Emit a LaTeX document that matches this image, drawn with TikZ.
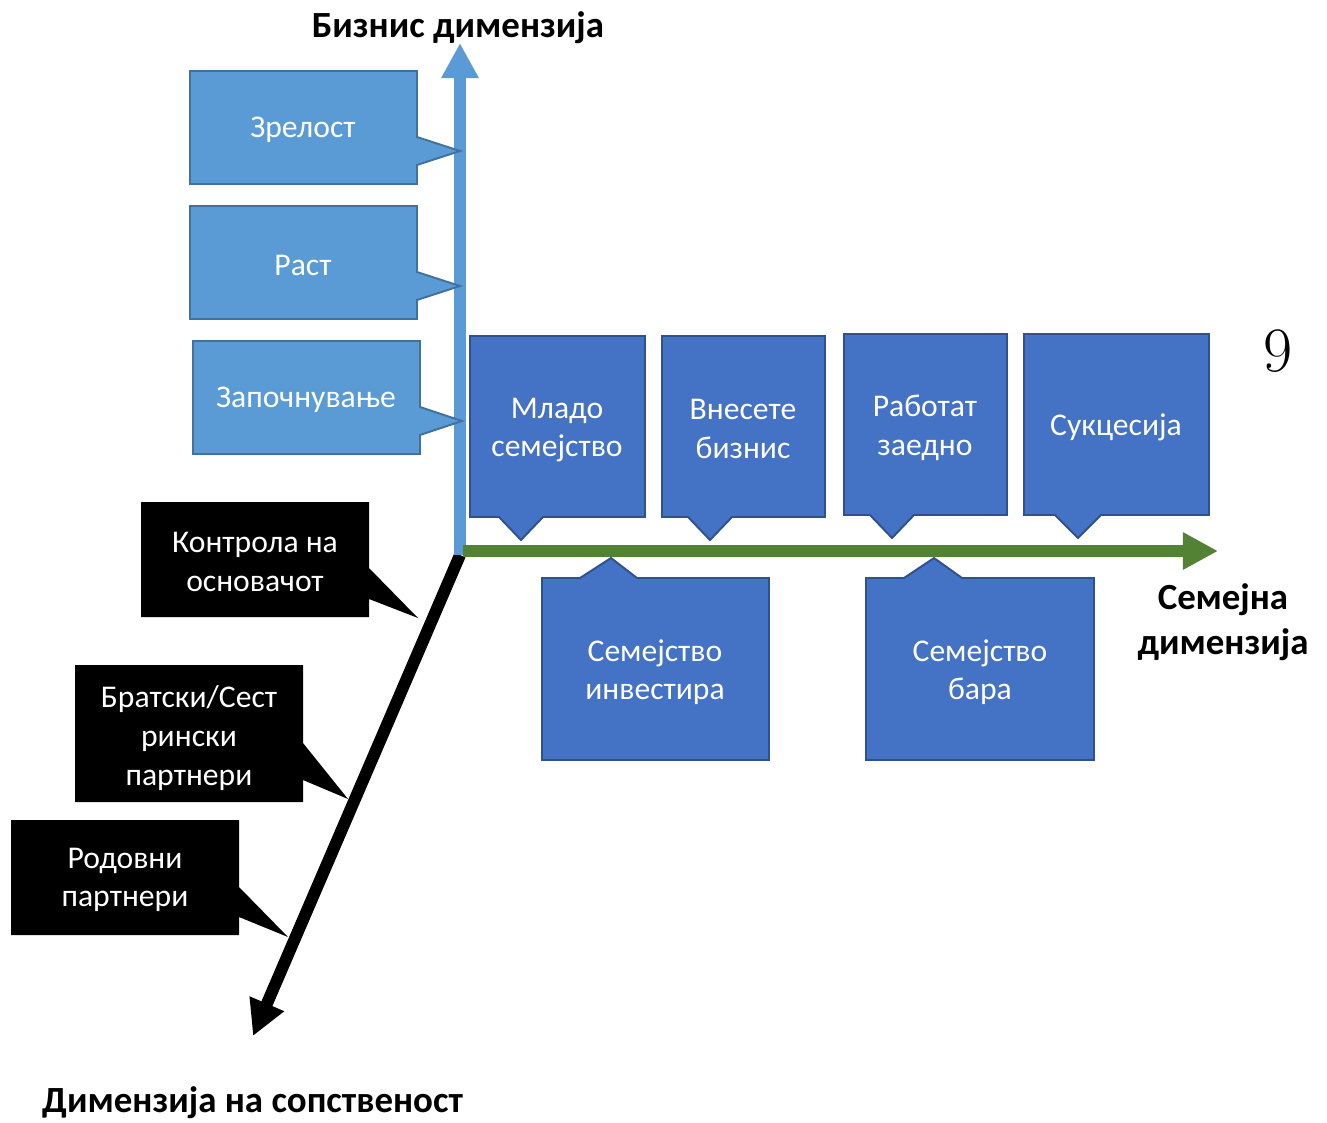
\documentclass[tikz,border=0pt]{standalone}
\usepackage{fontspec}
\setsansfont{Carlito}
\usetikzlibrary{arrows.meta}
\definecolor{bizblue}{RGB}{91,155,213}
\definecolor{bizedge}{RGB}{65,113,156}
\definecolor{famblue}{RGB}{68,114,196}
\definecolor{famedge}{RGB}{47,82,143}
\definecolor{famgreen}{RGB}{84,130,53}

\begin{document}
\begin{tikzpicture}
  [x=0.02cm,y=-0.02cm,
   bizbox/.style={fill=bizblue,draw=bizedge,line width=1.1pt},
   fambox/.style={fill=famblue,draw=famedge,line width=1.1pt},
   ownbox/.style={fill=black},
   boxtext/.style={text=white,align=center,font=\sffamily\fontsize{18}{22}\selectfont},
   axistext/.style={align=center,font=\sffamily\bfseries\fontsize{21}{25.5}\selectfont},
   axis/.style={line width=6.8pt}]
  \useasboundingbox (0,0) rectangle (1327,1122);

  % axes
  \coordinate (origin) at (460,555);
  \coordinate (biztip) at (460,43);
  \coordinate (famstart) at (463,551);
  \coordinate (famtip) at (1218,551);
  \coordinate (owntip) at (253,1036);
  \draw[axis,black,-{Triangle[width=20pt,length=20pt]}] (origin) -- (owntip);
  \draw[axis,bizblue,-{Triangle[width=20pt,length=20pt]}] (origin) -- (biztip);
  \draw[axis,famgreen,-{Triangle[width=20pt,length=20pt]}] (famstart) -- (famtip);

  % business stages
  \path[bizbox] (190,71) -- (417,71) -- (417,137) -- (460,151) -- (417,165) -- (417,184) -- (190,184) -- cycle;
  \path[bizbox] (190,206) -- (417,206) -- (417,272) -- (460,286) -- (417,300) -- (417,319) -- (190,319) -- cycle;
  \path[bizbox] (193,341) -- (420,341) -- (420,407) -- (462,421) -- (420,435) -- (420,454) -- (193,454) -- cycle;
  \node[boxtext] (zrelost) at (303,130) {Зрелост};
  \node[boxtext] (rast) at (303,265) {Раст};
  \node[boxtext] (pocetok) at (306,400) {Започнување};

  % family stages above
  \path[fambox] (470,336) -- (645,336) -- (645,517) -- (543,517) -- (521,540) -- (499,517) -- (470,517) -- cycle;
  \path[fambox] (662,336) -- (825,336) -- (825,517) -- (732,517) -- (710,540) -- (688,517) -- (662,517) -- cycle;
  \path[fambox] (844,334) -- (1007,334) -- (1007,515) -- (914,515) -- (892,538) -- (870,515) -- (844,515) -- cycle;
  \path[fambox] (1024,334) -- (1209,334) -- (1209,515) -- (1101,515) -- (1078,538) -- (1055,515) -- (1024,515) -- cycle;
  \node[boxtext] (mlado) at (557,430) {Младо\\семејство};
  \node[boxtext] (vnesete) at (743,429) {Внесете\\бизнис};
  \node[boxtext] (rabotat) at (925,428) {Работат\\заедно};
  \node[boxtext] (sukcesija) at (1116,427) {Сукцесија};

  % family stages below
  \path[fambox] (542,578) -- (580,578) -- (611,558) -- (637,578) -- (769,578) -- (769,760) -- (542,760) -- cycle;
  \path[fambox] (866,578) -- (904,578) -- (934,558) -- (962,578) -- (1094,578) -- (1094,760) -- (866,760) -- cycle;
  \node[boxtext] (investira) at (655,672) {Семејство\\инвестира};
  \node[boxtext] (bara) at (980,672) {Семејство\\бара};

  % ownership stages
  \path[ownbox] (141,502) -- (369,502) -- (369,568) -- (418,618) -- (369,599) -- (369,617) -- (141,617) -- cycle;
  \path[ownbox] (75,665) -- (303,665) -- (303,743) -- (348,799) -- (303,780) -- (303,802) -- (75,802) -- cycle;
  \path[ownbox] (11,820) -- (239,820) -- (239,887) -- (288,937) -- (239,917) -- (239,935) -- (11,935) -- cycle;
  \node[boxtext] (kontrola) at (255,562) {Контрола на\\основачот};
  \node[boxtext] (bratski) at (189,738) {Братски/Сест\\рински\\партнери};
  \node[boxtext] (rodovni) at (125,880) {Родовни\\партнери};

  % axis labels
  \node[axistext] (bizlabel) at (458,28) {Бизнис димензија};
  \node[axistext] (famlabel) at (1223,622) {Семејна\\димензија};
  \node[axistext,anchor=west] (ownlabel) at (36,1103) {Димензија на сопственост};
  \node[font=\fontsize{36}{40}\selectfont] (nine) at (1278,351) {9};
\end{tikzpicture}
\end{document}
